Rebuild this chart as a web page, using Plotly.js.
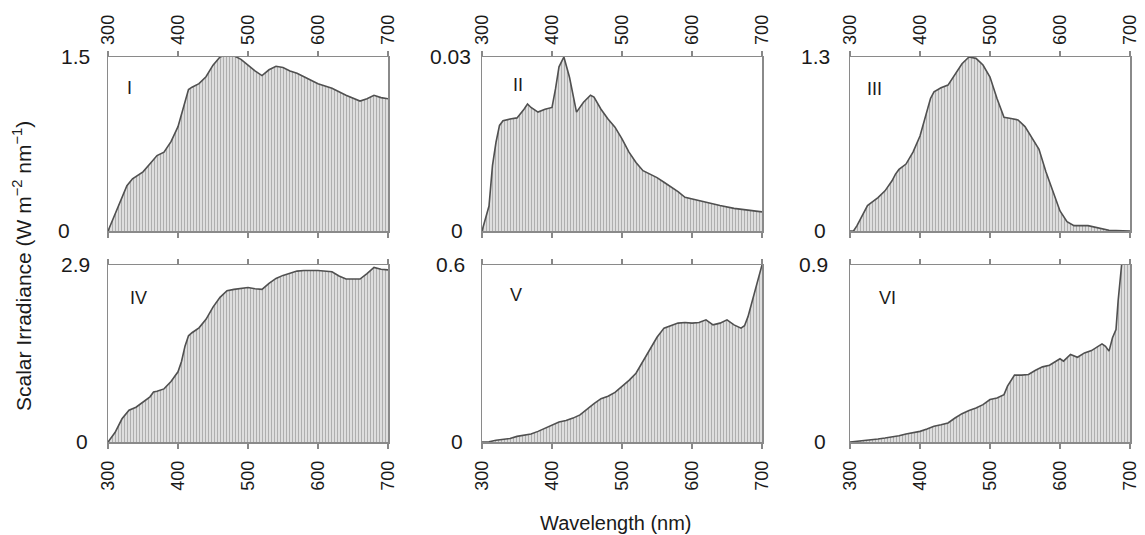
<!DOCTYPE html>
<html>
<head>
<meta charset="utf-8">
<script src="https://cdn.plot.ly/plotly-3.0.1.min.js"></script>
<style>html,body{margin:0;padding:0;background:#fff}#chart{width:1145px;height:535px}</style>
</head>
<body>
<div id="chart"></div>
<script>
// ---- Data (wavelength nm, scalar irradiance W m^-2 nm^-1) ----
const panelLabels = ["I", "II", "III", "IV", "V", "VI"];
const yMax = [1.5, 0.03, 1.3, 2.9, 0.6, 0.9];
const yMaxText = ["1.5", "0.03", "1.3", "2.9", "0.6", "0.9"];
const xTicks = [300, 400, 500, 600, 700];

const wl1 = [300,310,320,327,335,350,360,370,380,390,400,410,415,420,430,440,450,460,470,480,490,500,510,520,530,540,550,560,570,580,590,600,620,640,660,670,680,690,700];
const ir1 = [0,0.14,0.29,0.39,0.45,0.51,0.58,0.65,0.68,0.77,0.90,1.10,1.22,1.24,1.27,1.33,1.43,1.50,1.52,1.51,1.48,1.43,1.38,1.34,1.39,1.42,1.41,1.38,1.36,1.33,1.30,1.27,1.23,1.17,1.12,1.14,1.17,1.15,1.14];

const wl2 = [300,305,310,315,320,325,330,340,350,360,365,370,380,390,400,405,410,417,425,435,445,455,460,470,480,490,500,510,520,530,540,550,560,570,580,590,600,620,640,660,680,700];
const ir2 = [0,0.002,0.0043,0.0113,0.0153,0.0182,0.019,0.0193,0.0195,0.021,0.0219,0.0213,0.0205,0.021,0.0213,0.0245,0.0283,0.030,0.0265,0.0205,0.0222,0.0234,0.0231,0.021,0.0193,0.0179,0.0159,0.0136,0.0118,0.0104,0.0098,0.0092,0.0084,0.0076,0.0068,0.0058,0.0055,0.005,0.0044,0.0039,0.0036,0.0033];

const wl3 = [300,305,310,320,325,330,340,350,360,365,370,380,390,400,410,415,420,430,440,450,460,470,480,490,500,510,520,530,540,550,560,570,580,590,600,610,620,640,660,670,680,700];
const ir3 = [0,0,0.04,0.14,0.19,0.21,0.25,0.30,0.375,0.425,0.46,0.50,0.59,0.71,0.89,0.99,1.04,1.07,1.09,1.17,1.25,1.30,1.29,1.24,1.15,0.99,0.85,0.84,0.83,0.78,0.70,0.61,0.44,0.29,0.15,0.07,0.04,0.04,0.02,0.005,0.003,0];

const wl4 = [300,310,320,325,330,340,350,360,365,370,380,390,400,405,410,415,420,430,440,450,460,470,480,490,500,510,520,530,540,550,560,570,580,600,620,630,640,660,670,680,690,700];
const ir4 = [0,0.155,0.38,0.46,0.52,0.57,0.65,0.74,0.82,0.83,0.87,0.99,1.15,1.32,1.57,1.74,1.79,1.87,2.01,2.21,2.37,2.48,2.50,2.51,2.53,2.51,2.50,2.60,2.68,2.73,2.76,2.80,2.81,2.81,2.79,2.72,2.67,2.67,2.76,2.86,2.83,2.82];

const wl5 = [300,310,320,330,340,350,360,370,380,390,400,410,420,430,440,450,460,470,480,490,500,510,520,530,540,550,560,570,580,590,600,610,620,630,640,650,660,670,675,680,690,700];
const ir5 = [0,0.001,0.006,0.01,0.012,0.019,0.024,0.027,0.036,0.047,0.059,0.068,0.073,0.081,0.092,0.112,0.13,0.147,0.155,0.168,0.188,0.209,0.233,0.273,0.312,0.355,0.386,0.394,0.403,0.405,0.403,0.405,0.414,0.397,0.403,0.414,0.397,0.386,0.394,0.425,0.515,0.6];

const wl6 = [300,310,320,340,350,360,370,380,390,400,410,420,430,440,450,460,470,480,490,500,510,520,525,535,545,555,565,575,585,595,600,605,615,625,635,645,655,660,665,670,675,680,683,688,695,700];
const ir6 = [0,0.003,0.007,0.015,0.02,0.025,0.032,0.041,0.046,0.054,0.066,0.08,0.088,0.097,0.122,0.144,0.16,0.173,0.19,0.216,0.224,0.241,0.284,0.34,0.34,0.343,0.365,0.382,0.39,0.411,0.423,0.411,0.445,0.431,0.453,0.465,0.487,0.499,0.487,0.462,0.53,0.572,0.717,0.9,1.0,1.0];

const wls = [wl1, wl2, wl3, wl4, wl5, wl6];
const irs = [ir1, ir2, ir3, ir4, ir5, ir6];

// ---- Layout geometry (pixels) ----
const W = 1145, H = 535;
const colPx = [[108, 388], [482, 762], [850, 1130]];
const rowPx = [[57, 231], [265, 442]];
const labelPos = [[129, 88], [518, 85], [874, 89], [138, 298], [516, 295], [887, 298]];
const yTickRight = [[72, 92], [465, 473], [828, 832], [90, 92], [465, 467], [828, 830]];
const FONT = "Liberation Sans, Arial, sans-serif";

const traces = [];
const layout = {
  width: W, height: H,
  margin: {l: 0, r: 0, t: 0, b: 0},
  paper_bgcolor: "#fff", plot_bgcolor: "#fff",
  showlegend: false,
  font: {family: FONT, color: "#1a1a1a", size: 17},
  annotations: []
};

for (let i = 0; i < 6; i++) {
  const r = Math.floor(i / 3), c = i % 3;
  const n = i === 0 ? "" : String(i + 1);
  traces.push({
    type: "scatter", mode: "lines",
    x: wls[i], y: irs[i],
    xaxis: "x" + n, yaxis: "y" + n,
    fill: "tozeroy",
    fillcolor: "#dcdcdc",
    fillpattern: {shape: "|", fgcolor: "#a8a8a8", bgcolor: "#dedede", size: 3, solidity: 0.3},
    line: {color: "#505050", width: 1.6, shape: "linear"},
    hoverinfo: "skip"
  });
  const xd = [colPx[c][0] / W, colPx[c][1] / W];
  const yd = [1 - rowPx[r][1] / H, 1 - rowPx[r][0] / H];
  layout["xaxis" + n] = {
    domain: xd, anchor: "y" + n,
    range: [300, 700],
    side: r === 0 ? "top" : "bottom",
    tickvals: xTicks,
    ticktext: xTicks.map(String),
    tickangle: -90,
    ticks: "outside", ticklen: 5, tickwidth: 1.2, tickcolor: "#888",
    ticklabelstandoff: r === 0 ? 2 : 5,
    showline: true, linecolor: "#8a8a8a", linewidth: 1.5,
    mirror: "ticks",
    showgrid: false, zeroline: false,
    automargin: false,
    tickfont: {family: FONT, size: 18, color: "#1a1a1a"},
    fixedrange: true
  };
  layout["yaxis" + n] = {
    domain: yd, anchor: "x" + n,
    range: [0, yMax[i]],
    showticklabels: false,
    ticks: "",
    showline: true, linecolor: "#8a8a8a", linewidth: 1.5,
    mirror: true,
    showgrid: false, zeroline: false,
    automargin: false,
    fixedrange: true
  };
  // y tick labels (0 and max), placed per panel as in the original figure
  const yt = [0, yMax[i]], ytt = ["0", yMaxText[i]];
  for (let k = 0; k < 2; k++) {
    layout.annotations.push({
      xref: "paper", yref: "y" + n,
      x: yTickRight[i][k] / W, y: yt[k],
      xanchor: "right", yanchor: "middle",
      text: ytt[k], showarrow: false,
      font: {family: FONT, size: 21, color: "#1a1a1a"}
    });
  }
  layout.annotations.push({
    xref: "paper", yref: "paper",
    x: labelPos[i][0] / W, y: 1 - labelPos[i][1] / H,
    xanchor: "center", yanchor: "middle",
    text: panelLabels[i], showarrow: false,
    font: {family: FONT, size: 18, color: "#1a1a1a"}
  });
}

layout.annotations.push({
  xref: "paper", yref: "paper",
  x: 22 / W, y: 1 - 266 / H,
  text: "Scalar Irradiance (W m<sup>−2</sup> nm<sup>−1</sup>)",
  textangle: -90, showarrow: false,
  xanchor: "center", yanchor: "middle",
  font: {family: FONT, size: 21, color: "#1a1a1a"}
});
layout.annotations.push({
  xref: "paper", yref: "paper",
  x: 616 / W, y: 1 - 523 / H,
  text: "Wavelength (nm)", showarrow: false,
  xanchor: "center", yanchor: "middle",
  font: {family: FONT, size: 20, color: "#1a1a1a"}
});

Plotly.newPlot("chart", traces, layout, {displayModeBar: false, staticPlot: true});
</script>
</body>
</html>
